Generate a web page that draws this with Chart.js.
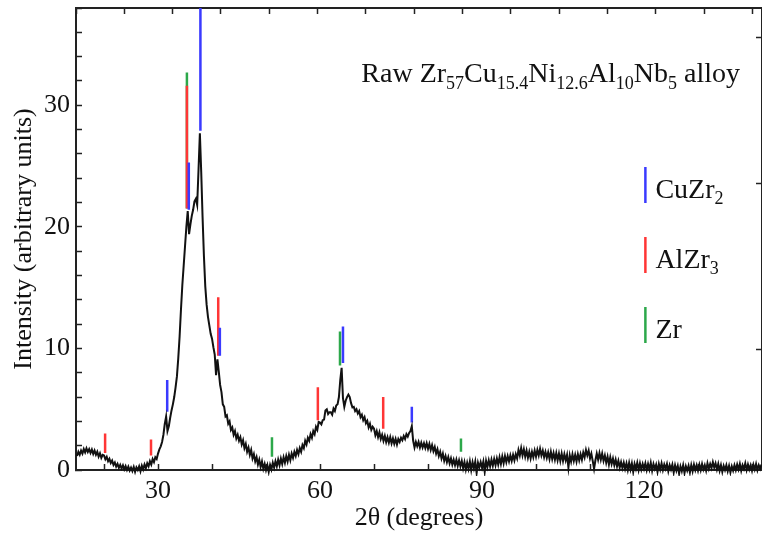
<!DOCTYPE html>
<html lang="en">
<head>
  <meta charset="UTF-8">
  <title>XRD raw Zr57Cu15.4Ni12.6Al10Nb5</title>
  <script src="https://cdn.jsdelivr.net/npm/chart.js"></script>
  <style>
    body { margin: 0; background: #fff; }
    #wrap { width: 762px; height: 539px; }
  </style>
</head>
<body>
  <div id="wrap"><canvas id="xrd"></canvas></div>

  <script>
    // scan: 2theta from 15 deg, step 0.25 deg
    const scanStart = 15;
    const scanStep = 0.25;
    const intensity = [
      // 15 - 19.75
      1.15,1.5,1.25,1.6,1.35,1.72,1.45,1.78,1.48,1.72,1.4,1.68,1.32,1.6,1.25,1.5,1.1,1.38,1.0,1.25,
      // 20
      1.2,0.88,1.08,0.72,0.92,0.58,0.78,0.42,0.62,0.28,0.5,0.18,0.42,0.12,0.38,0.05,0.32,0.0,0.28,-0.05,
      // 25
      0.2,-0.08,0.25,-0.15,0.22,0.0,0.3,-0.1,0.35,0.05,0.45,0.15,0.55,0.3,0.72,0.45,0.9,0.65,1.05,0.9,
      // 30
      1.35,1.7,1.95,2.3,2.9,3.8,4.4,3.2,3.6,4.3,4.9,5.4,6.0,6.8,7.7,9.2,11.0,13.2,15.2,16.8,
      // 35
      18.4,20.0,21.3,19.4,20.2,20.9,21.4,22.1,22.3,21.8,24.7,27.7,24.5,20.8,17.6,15.1,13.6,12.6,11.9,11.2,
      // 40
      10.8,10.1,9.5,7.8,9.1,8.1,7.0,6.4,5.4,5.2,4.4,4.5,3.8,4.0,3.3,3.5,2.9,3.2,2.6,2.9,
      // 45
      2.4,2.7,2.1,2.45,1.8,2.15,1.5,1.85,1.25,1.65,0.95,1.3,0.7,1.05,0.45,0.85,0.25,0.7,0.1,0.5,
      // 50
      0.0,0.4,-0.15,0.42,0.05,0.6,0.2,0.72,0.3,0.85,0.4,0.95,0.5,1.05,0.6,1.15,0.7,1.25,0.8,1.35,
      // 55
      1.0,1.5,1.15,1.65,1.3,1.8,1.5,2.05,1.8,2.4,2.1,2.65,2.4,2.95,2.65,3.2,2.95,3.55,3.3,3.95,
      // 60
      3.9,3.75,4.1,4.15,4.9,5.0,4.6,4.75,4.75,4.55,5.05,4.85,5.3,5.4,6.0,7.4,8.4,5.9,5.2,5.7,
      // 65
      6.0,6.2,6.0,5.5,5.15,5.2,4.85,5.0,4.65,4.85,4.35,4.55,4.1,4.35,3.85,4.05,3.5,3.8,3.3,3.55,
      // 70
      3.4,2.85,3.2,2.7,3.1,2.55,2.9,2.4,2.8,2.3,2.7,2.25,2.7,2.2,2.6,2.15,2.55,2.1,2.55,2.3,
      // 75
      2.65,2.45,2.8,2.55,2.95,2.75,3.05,3.2,3.6,2.4,1.85,2.3,1.95,2.3,1.85,2.25,1.85,2.2,1.8,2.2,
      // 80
      1.75,2.15,1.65,2.05,1.55,1.9,1.35,1.7,1.15,1.5,0.95,1.35,0.75,1.15,0.65,1.05,0.55,0.95,0.45,0.85,
      // 85
      0.4,0.85,0.35,0.8,0.3,0.75,0.15,0.65,0.05,0.6,0.1,0.7,0.0,0.65,0.15,0.7,-0.25,0.6,0.2,0.65,
      // 90
      0.2,0.7,-0.15,0.75,0.25,0.8,0.3,0.85,0.35,0.9,0.4,0.95,0.45,1.05,0.5,1.1,0.55,1.15,0.65,1.15,
      // 95
      0.7,1.2,0.75,1.25,0.8,1.3,0.95,1.65,1.2,1.8,1.2,1.7,1.1,1.6,1.0,1.5,0.95,1.5,1.05,1.6,
      // 100
      1.1,1.65,1.2,1.75,1.2,1.6,1.05,1.5,1.0,1.45,0.9,1.5,0.9,1.4,0.85,1.4,0.8,1.35,0.75,1.35,
      // 105
      0.75,1.3,0.8,1.25,0.2,1.2,0.7,1.3,0.75,1.25,0.7,1.3,0.8,1.3,0.85,1.45,1.05,1.65,1.2,1.6,
      // 110
      0.95,1.35,0.75,0.1,0.8,1.35,0.85,1.4,0.85,1.35,0.75,1.2,0.6,1.1,0.45,1.05,0.5,0.95,0.4,0.85,
      // 115
      0.3,0.75,0.2,0.65,0.15,0.6,0.1,0.55,0.0,0.6,0.05,0.55,-0.15,0.5,0.1,0.6,0.0,0.55,0.05,0.5,
      // 120
      0.1,0.55,0.0,0.5,0.05,0.6,-0.05,0.5,0.1,0.45,-0.15,0.5,0.05,0.55,0.0,0.45,0.1,0.5,-0.1,0.4,
      // 125
      0.05,0.45,-0.2,0.4,-0.05,0.35,-0.3,0.3,-0.1,0.4,-0.25,0.3,-0.05,0.35,-0.2,0.4,-0.1,0.45,0.0,0.4,
      // 130
      -0.05,0.45,0.0,0.5,0.05,0.4,-0.05,0.55,0.1,0.5,0.15,0.65,0.2,0.55,0.05,0.5,-0.05,0.4,-0.15,0.35,
      // 135
      0.0,0.4,-0.1,0.35,-0.2,0.3,-0.05,0.4,0.0,0.45,0.05,0.5,-0.05,0.4,0.1,0.55,0.0,0.45,0.05,0.4,
      // 140
      -0.05,0.45,0.05,0.5,0.0,0.4,0.1,0.45
    ];

    // reference peak markers (position, top, bottom of each stick)
    const cuZr2Pos = [31.7, 35.7, 37.85, 41.45, 64.25, 77.0];
    const cuZr2Top = [7.4, 25.3, 38.5, 11.7, 11.8, 5.2];
    const cuZr2Bot = [4.8, 21.4, 27.9, 9.4, 8.8, 3.9];

    const alZr3Pos = [20.2, 28.7, 35.35, 41.15, 59.6, 71.7];
    const alZr3Top = [3.0, 2.5, 31.6, 14.2, 6.8, 6.0];
    const alZr3Bot = [1.4, 1.2, 21.5, 9.4, 4.1, 3.4];

    const zrPos = [35.35, 51.1, 63.7, 86.1];
    const zrTop = [32.7, 2.7, 11.4, 2.6];
    const zrBot = [21.5, 1.1, 8.6, 1.5];

    const phaseNames = ['CuZr', 'AlZr', 'Zr'];
    const phaseSubs = ['2', '3', ''];
    const phaseColors = ['#3a3aff', '#ff3535', '#2ca84a'];

    const titleParts = [['Raw Zr', false], ['57', true], ['Cu', false], ['15.4', true], ['Ni', false],
      ['12.6', true], ['Al', false], ['10', true], ['Nb', false], ['5', true], [' alloy', false]];

    const xTicksLabelled = [30, 60, 90, 120];
    const yTicksLabelled = [0, 10, 20, 30];
    const rightTicks = [9.9, 23.6, 35.6];

    const serif = "'Liberation Serif', 'DejaVu Serif', serif";

    const curve = intensity.map((v, i) => ({ x: scanStart + i * scanStep, y: v }));

    function sticks(pos, top, bot) {
      const pts = [];
      pos.forEach((p, i) => {
        pts.push({ x: p, y: bot[i] }, { x: p, y: top[i] }, { x: p, y: null });
      });
      return pts;
    }

    // fixed box sizes so the plot frame sits where the original one does
    function fixBox(size, horizontal) {
      return s => {
        if (horizontal) s.height = size; else s.width = size;
        s.paddingTop = 0; s.paddingBottom = 0; s.paddingLeft = 0; s.paddingRight = 0;
      };
    }

    // title + phase key drawn inside the plot
    const notes = {
      id: 'notes',
      afterDatasetsDraw(chart) {
        const { ctx, chartArea: ca } = chart;
        ctx.save();
        ctx.fillStyle = '#111';
        ctx.textBaseline = 'alphabetic';
        ctx.textAlign = 'left';
        const big = '28px ' + serif, small = '18px ' + serif;

        let w = 0;
        titleParts.forEach(([t, sub]) => { ctx.font = sub ? small : big; w += ctx.measureText(t).width; });
        let x = ca.right - 22 - w;
        const base = ca.top + 74;
        titleParts.forEach(([t, sub]) => {
          ctx.font = sub ? small : big;
          ctx.fillText(t, x, sub ? base + 7 : base);
          x += ctx.measureText(t).width;
        });

        const sx = ca.left + ca.width * 0.83;
        phaseNames.forEach((name, i) => {
          const top = ca.top + 159 + i * 70;
          ctx.strokeStyle = phaseColors[i];
          ctx.lineWidth = 2.5;
          ctx.beginPath();
          ctx.moveTo(sx, top);
          ctx.lineTo(sx, top + 36);
          ctx.stroke();
          ctx.font = big;
          ctx.fillText(name, sx + 10, top + 31);
          if (phaseSubs[i]) {
            const nw = ctx.measureText(name).width;
            ctx.font = small;
            ctx.fillText(phaseSubs[i], sx + 10 + nw, top + 37);
          }
        });
        ctx.restore();
      }
    };

    const axisBorder = { display: true, color: '#222', width: 2 };

    new Chart(document.getElementById('xrd'), {
      type: 'line',
      data: {
        datasets: [
          { data: curve, borderColor: '#111', borderWidth: 2, pointRadius: 0, tension: 0, order: 0,
            clip: { left: 0, top: 0, right: 0, bottom: 6 } },
          { data: sticks(cuZr2Pos, cuZr2Top, cuZr2Bot), borderColor: phaseColors[0], borderWidth: 2.5,
            pointRadius: 0, spanGaps: false, order: 1 },
          { data: sticks(alZr3Pos, alZr3Top, alZr3Bot), borderColor: phaseColors[1], borderWidth: 2.5,
            pointRadius: 0, spanGaps: false, order: 2 },
          { data: sticks(zrPos, zrTop, zrBot), borderColor: phaseColors[2], borderWidth: 2.5,
            pointRadius: 0, spanGaps: false, order: 3 }
        ]
      },
      options: {
        responsive: true,
        maintainAspectRatio: false,
        animation: false,
        layout: { padding: 0 },
        plugins: { legend: { display: false }, tooltip: { enabled: false } },
        scales: {
          x: {
            type: 'linear', position: 'bottom', min: 14.81, max: 141.85,
            border: axisBorder,
            grid: { drawOnChartArea: false, tickLength: -6, tickColor: '#222', tickWidth: 1.5 },
            ticks: {
              stepSize: 10, includeBounds: false, autoSkip: false, maxRotation: 0, padding: 12,
              color: '#111', font: { family: serif, size: 26 },
              callback: v => xTicksLabelled.includes(v) ? v : ''
            },
            title: { display: true, text: '2θ (degrees)', color: '#111',
              font: { family: serif, size: 26 }, padding: { top: 0, bottom: 5 } },
            afterFit: fixBox(69, true)
          },
          xTop: {
            type: 'linear', position: 'top', min: 0, max: 14.2,
            border: axisBorder,
            grid: { drawOnChartArea: false, tickLength: -6, tickColor: '#222', tickWidth: 1.5 },
            ticks: { stepSize: 1, includeBounds: false, autoSkip: false, callback: () => '' },
            afterFit: fixBox(8, true)
          },
          y: {
            type: 'linear', position: 'left', min: 0, max: 38,
            border: axisBorder,
            grid: { drawOnChartArea: false, tickLength: -6, tickColor: '#222', tickWidth: 1.5 },
            ticks: {
              stepSize: 2, includeBounds: false, autoSkip: false, padding: 12,
              color: '#111', font: { family: serif, size: 26 },
              callback: v => yTicksLabelled.includes(v) ? v : ''
            },
            title: { display: true, text: 'Intensity (arbitrary units)', color: '#111',
              font: { family: serif, size: 26 }, padding: { top: 9, bottom: 0 } },
            afterFit: fixBox(76, false)
          },
          yRight: {
            type: 'linear', position: 'right', min: 0, max: 38,
            border: axisBorder,
            grid: { drawOnChartArea: false, tickLength: -6, tickColor: '#222', tickWidth: 1.5 },
            ticks: { autoSkip: false, callback: () => '' },
            afterBuildTicks: s => { s.ticks = rightTicks.map(v => ({ value: v })); },
            afterFit: fixBox(0, false)
          }
        }
      },
      plugins: [notes]
    });
  </script>
</body>
</html>
